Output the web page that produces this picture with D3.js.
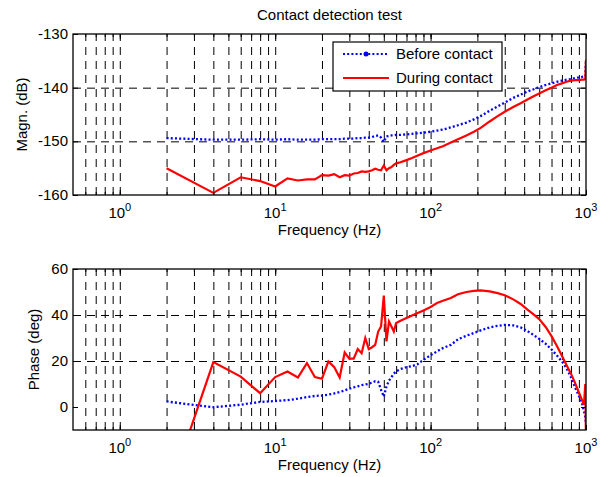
<!DOCTYPE html>
<html>
<head>
<meta charset="utf-8">
<script src="https://cdn.jsdelivr.net/npm/d3@7"></script>
<style>
  body { margin: 0; background: #fff; }
  svg { font-family: "Liberation Sans", Arial, sans-serif; }
  .grid line { stroke: #000; stroke-width: 1; stroke-dasharray: 8,6; }
  .grid path { display: none; }
  .ax path { display: none; }
  .ax line { stroke: #000; stroke-width: 1; }
</style>
</head>
<body>
<svg id="chart" width="603" height="477"></svg>
<script>
// frequency points (Hz)
const freqs = [2,4,6,8,10,12,14,16,18,20,
  22,24,26,28,30,32,34,36,38,40,
  42,44,46,48,50,52,54,56,58,60,
  64,70,76,82,90,100,
  110,120,135,150,170,190,210,240,270,300,
  340,380,420,460,500,550,600,650,700,750,
  800,850,900,940,970,990,1000];

const magBefore = [-149.4,-149.7,-149.7,-149.6,-149.7,-149.6,-149.7,-149.7,-149.7,-149.6,
  -149.6,-149.6,-149.6,-149.5,-149.5,-149.5,-149.4,-149.4,-149.3,-149.3,
  -149.2,-149.0,-148.9,-149.3,-150.1,-149.1,-149.0,-148.9,-148.9,-148.8,
  -148.8,-148.7,-148.6,-148.5,-148.4,-148.2,
  -148.0,-147.8,-147.4,-147.0,-146.5,-145.9,-145.3,-144.3,-143.5,-142.8,
  -141.9,-141.3,-140.7,-140.3,-139.9,-139.5,-139.2,-138.9,-138.7,-138.5,
  -138.4,-138.2,-138.1,-138.0,-137.9,-137.9,-134.8];

const magDuring = [-155,-159.6,-156.7,-157.4,-158.4,-156.9,-157.3,-157.1,-157.1,-156.3,
  -156.4,-156.1,-156.7,-156.3,-156.4,-156.0,-155.9,-155.6,-155.7,-155.6,
  -155.4,-155.1,-155.3,-155.4,-154.5,-155.4,-155.0,-154.8,-154.4,-154.1,
  -153.9,-153.5,-153.1,-152.7,-152.2,-151.7,
  -151.3,-150.9,-150.2,-149.6,-148.9,-148.2,-147.5,-146.3,-145.3,-144.5,
  -143.6,-142.9,-142.2,-141.6,-141.1,-140.5,-140.0,-139.5,-139.2,-138.9,
  -138.7,-138.6,-138.6,-138.5,-138.5,-138.4,-134.8];

const phaseBefore = [2.4,-0.1,1.0,2.2,2.6,3.0,3.6,4.3,4.8,5.0,
  5.4,5.9,6.5,7.2,8.0,8.5,9.0,9.5,9.8,10.1,
  10.6,11.2,11.0,7.5,4.5,8.9,11.5,13.0,14.5,15.5,
  16.5,17.3,17.8,18.5,20.5,22.5,
  24.2,25.6,27.0,29.4,31.0,32.2,33.3,34.6,35.3,35.7,
  35.5,34.6,33.0,31.3,29.6,27.5,25.0,22.4,19.8,16.8,
  13.0,8.6,4.9,2.0,-1.8,-4.5,-7];

const phaseDuring = [-40,19.5,13.2,6.0,13.0,15.4,12.8,19.1,13.0,12.3,
  19.8,17.3,12.8,23.7,21.0,21.0,25.2,23.4,30.0,25.2,
  26.0,27.0,32.8,35.0,48.4,28.5,37.2,35.0,32.8,36.5,
  37.5,38.7,39.8,40.8,42.0,43.5,
  45.2,46.2,47.4,49.0,50.0,50.5,50.7,50.3,49.5,48.6,
  46.8,44.8,42.3,40.3,38.2,34.8,30.8,26.5,22.3,18.2,
  14.5,10.5,6.3,3.2,1.0,10.0,-15];

const magTicks = [-160,-150,-140,-130];
const phaseTicks = [0,20,40,60];
const decadeTicks = [1,10,100,1000];
const seriesNames = ["Before contact","During contact"];

const svg = d3.select("#chart");
const left = 73, right = 586, fs = 15;

// minor ticks of the log axis (0.6 .. 1000)
const minorTicks = [];
[0.1,1,10,100].forEach(d => { for (let k = 1; k <= 9; k++) { const v = d*k; if (v >= 0.55 && v <= 1000) minorTicks.push(v); } });
minorTicks.push(1000);

function panel(id, top, bottom, yDomain, yTicks, yLabel, yLabelX, series) {
  const x = d3.scaleLog().domain([0.5, 1000]).range([left, right]);
  const y = d3.scaleLinear().domain(yDomain).range([bottom, top]);
  const h = bottom - top, w = right - left;
  const g = svg.append("g");

  // grid
  g.append("g").attr("class","grid").attr("transform",`translate(0,${bottom})`)
    .call(d3.axisBottom(x).tickValues(minorTicks.filter(v => v < 1000)).tickSize(-h).tickFormat(""));
  g.append("g").attr("class","grid").attr("transform",`translate(${left},0)`)
    .call(d3.axisLeft(y).tickValues(yTicks.slice(1, -1)).tickSize(-w).tickFormat(""));

  // lines
  g.append("clipPath").attr("id", id).append("rect")
    .attr("x", left).attr("y", top).attr("width", w).attr("height", h);
  const line = vals => d3.line().x((d, i) => x(freqs[i])).y(d => y(d))(vals);
  g.append("path").attr("clip-path",`url(#${id})`).attr("d", line(series[0]))
    .attr("fill","none").attr("stroke","#0000ff").attr("stroke-width",2.3)
    .attr("stroke-dasharray","2,2.2");
  g.append("path").attr("clip-path",`url(#${id})`).attr("d", line(series[1]))
    .attr("fill","none").attr("stroke","#ff0000").attr("stroke-width",2.2);

  // ticks on all four sides
  g.append("g").attr("class","ax").attr("transform",`translate(0,${bottom})`)
    .call(d3.axisBottom(x).tickValues(minorTicks).tickSize(-3).tickFormat(""));
  g.append("g").attr("class","ax").attr("transform",`translate(0,${top})`)
    .call(d3.axisTop(x).tickValues(minorTicks).tickSize(-3).tickFormat(""));
  g.append("g").attr("class","ax").attr("transform",`translate(0,${bottom})`)
    .call(d3.axisBottom(x).tickValues(decadeTicks).tickSize(-5).tickFormat(""));
  g.append("g").attr("class","ax").attr("transform",`translate(0,${top})`)
    .call(d3.axisTop(x).tickValues(decadeTicks).tickSize(-5).tickFormat(""));
  g.append("g").attr("class","ax").attr("transform",`translate(${left},0)`)
    .call(d3.axisLeft(y).tickValues(yTicks).tickSize(-5).tickFormat(""));
  g.append("g").attr("class","ax").attr("transform",`translate(${right},0)`)
    .call(d3.axisRight(y).tickValues(yTicks).tickSize(-5).tickFormat(""));

  // box
  g.append("rect").attr("x", left).attr("y", top).attr("width", w).attr("height", h)
    .attr("fill","none").attr("stroke","#000").attr("stroke-width",1.3);

  // y tick labels
  g.selectAll(".yl").data(yTicks).enter().append("text")
    .attr("x", left - 5).attr("y", d => y(d) + 5)
    .attr("text-anchor","end").attr("font-size", fs).text(d => d);

  // x tick labels 10^n
  decadeTicks.forEach(v => {
    const t = g.append("text").attr("x", x(v)).attr("y", bottom + 23)
      .attr("text-anchor","middle").attr("font-size", fs);
    t.append("tspan").text("10");
    t.append("tspan").attr("dy", -7).attr("font-size", 11).text(Math.round(Math.log10(v)));
  });

  g.append("text").attr("x", (left + right) / 2).attr("y", bottom + 40)
    .attr("text-anchor","middle").attr("font-size", fs).text("Frequency (Hz)");
  g.append("text").attr("transform",`translate(${yLabelX},${(top + bottom) / 2}) rotate(-90)`)
    .attr("text-anchor","middle").attr("font-size", fs).text(yLabel);
}

panel("clipMag", 34, 195, [-160, -130], magTicks, "Magn. (dB)", 27, [magBefore, magDuring]);
panel("clipPhase", 269, 430, [-10, 60], phaseTicks, "Phase (deg)", 39, [phaseBefore, phaseDuring]);

svg.append("text").attr("x", (left + right) / 2).attr("y", 20)
  .attr("text-anchor","middle").attr("font-size", fs).text("Contact detection test");

// legend
const lg = svg.append("g");
lg.append("rect").attr("x", 333).attr("y", 42).attr("width", 169).attr("height", 49)
  .attr("fill","#fff").attr("stroke","#000").attr("stroke-width",1.2);
seriesNames.forEach((name, i) => {
  const ly = 54 + i * 24;
  lg.append("line").attr("x1", 343).attr("x2", 389).attr("y1", ly).attr("y2", ly)
    .attr("stroke", i === 0 ? "#0000ff" : "#ff0000").attr("stroke-width", 2.2)
    .attr("stroke-dasharray", i === 0 ? "2,2.2" : null);
  if (i === 0) lg.append("circle").attr("cx", 366).attr("cy", ly).attr("r", 2.5).attr("fill","#0000ff");
  lg.append("text").attr("x", 396).attr("y", ly + 5).attr("font-size", fs).text(name);
});
</script>
</body>
</html>
